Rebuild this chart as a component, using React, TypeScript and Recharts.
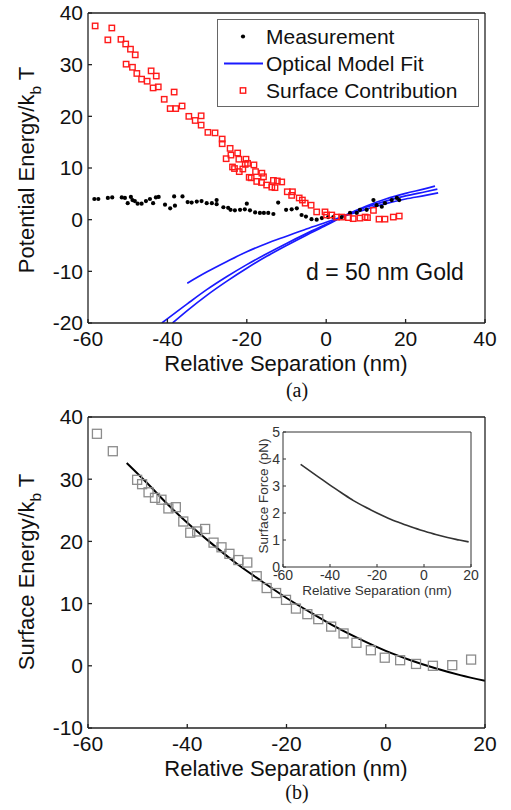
import React from "react";
import { ComposedChart, Line, Scatter, XAxis, YAxis, Legend, Label } from "recharts";

const FONT = "'Liberation Sans', Arial, Helvetica, sans-serif";
const SERIF = "'Liberation Serif', 'Times New Roman', serif";
const INK = "#111";

// ---- (a) potential energy ----
const topXTicks = [-60, -40, -20, 0, 20, 40];
const topYTicks = [-20, -10, 0, 10, 20, 30, 40];

const measurement = [
  [-58.4, 4.0], [-57.4, 4.0], [-55.0, 4.2], [-53.9, 4.3], [-51.5, 4.3], [-50.7, 4.2],
  [-50.0, 3.2], [-49.2, 4.4], [-48.8, 3.8], [-48.2, 3.6], [-47.5, 3.1], [-46.5, 3.1],
  [-45.4, 3.6], [-44.4, 4.0], [-43.6, 3.2], [-42.9, 4.3], [-42.2, 4.4], [-40.6, 2.9],
  [-39.3, 2.2], [-38.1, 2.7], [-38.3, 4.5], [-36.2, 4.5], [-34.9, 3.4], [-33.9, 3.3],
  [-32.6, 3.5], [-31.4, 3.6], [-30.1, 3.2], [-28.8, 3.2], [-27.6, 3.8], [-27.6, 3.0],
  [-25.9, 2.4], [-24.7, 2.3], [-24.1, 1.9], [-23.0, 1.8], [-21.7, 1.9], [-20.5, 2.0],
  [-20.0, 3.1], [-19.2, 1.8], [-17.9, 1.4], [-16.7, 1.3], [-15.7, 1.3], [-14.6, 1.3],
  [-13.3, 1.1], [-12.1, 3.3], [-10.1, 1.9], [-8.7, 2.0], [-7.4, 2.2], [-6.2, 0.9],
  [-5.1, 0.6], [-3.7, 0.1], [-2.4, 0.0], [-1.1, 0.3], [0.5, 0.5], [1.8, 0.5],
  [3.9, 0.5], [6.0, 1.3], [7.7, 1.3], [8.5, 1.9], [10.2, 1.9], [11.9, 3.8],
  [12.7, 2.8], [14.0, 2.5], [14.8, 3.2], [16.5, 3.8], [17.8, 4.2], [18.4, 3.8],
];

const surfaceContribution = [
  [-58.2, 37.5], [-55.0, 34.8], [-54.0, 37.1], [-51.7, 34.9], [-50.5, 34.0], [-49.3, 33.0],
  [-48.1, 31.9], [-50.4, 30.1], [-48.8, 29.5], [-47.7, 28.3], [-46.5, 27.2], [-45.1, 26.8],
  [-44.1, 28.8], [-42.8, 27.8], [-43.6, 25.5], [-42.3, 25.7], [-40.8, 23.3], [-38.3, 24.7],
  [-39.3, 21.5], [-37.9, 21.5], [-36.3, 22.0], [-34.6, 20.0], [-33.0, 19.2], [-31.5, 20.1],
  [-31.5, 18.3], [-29.8, 16.9], [-28.0, 16.8], [-26.2, 15.6], [-26.2, 14.7], [-24.2, 13.8],
  [-24.0, 12.5], [-25.2, 11.8], [-22.3, 12.9], [-22.0, 11.7], [-20.2, 11.7], [-23.6, 10.2],
  [-23.1, 9.9], [-21.9, 9.3], [-21.0, 9.8], [-20.4, 10.7], [-19.8, 10.9], [-18.2, 10.6],
  [-17.8, 9.3], [-19.4, 8.2], [-18.9, 8.1], [-16.2, 9.0], [-15.8, 8.3], [-17.5, 7.4],
  [-16.3, 7.2], [-15.0, 6.7], [-13.7, 6.3], [-13.3, 7.6], [-12.3, 7.5], [-11.2, 7.3],
  [-12.9, 6.2], [-9.8, 5.4], [-8.5, 5.4], [-8.7, 4.7], [-6.8, 4.2], [-6.0, 3.8],
  [-5.3, 3.2], [-3.8, 2.8], [-2.4, 1.5], [-0.3, 1.5], [0.1, 0.9], [1.4, 0.9],
  [2.6, 0.5], [3.9, 0.5], [5.6, 0.4], [6.8, 0.2], [8.5, 0.3], [9.8, 0.5],
  [10.4, 0.4], [11.9, 1.8], [13.3, 0.1], [14.8, 0.1], [16.9, 0.5], [18.4, 0.7],
];

const fitA = [
  [-35, -12.3], [-30, -10.1], [-25, -8.1], [-20, -6.2], [-15, -4.6], [-10, -3.2],
  [-5, -1.8], [0, -0.5], [5, 0.8], [10, 2.0], [15, 3.1], [20, 4.0], [25, 4.7], [28.2, 5.2],
];
const fitB = [
  [-41.4, -20], [-35, -16.3], [-30, -13.5], [-25, -11.0], [-20, -8.7], [-15, -6.6],
  [-10, -4.6], [-5, -2.7], [0, -0.9], [5, 0.9], [10, 2.4], [15, 3.6], [20, 4.6],
  [25, 5.4], [28, 5.9],
];
const fitC = [
  [-38.7, -20], [-35, -17.6], [-30, -14.6], [-25, -11.9], [-20, -9.4], [-15, -7.1],
  [-10, -5.0], [-5, -3.0], [0, -1.1], [5, 0.9], [10, 2.6], [15, 4.0], [20, 5.1],
  [25, 6.0], [27.4, 6.5],
];

const legendRows = ["Measurement", "Optical Model Fit", "Surface Contribution"];

// ---- (b) surface energy ----
const botXTicks = [-60, -40, -20, 0, 20];
const botYTicks = [-10, 0, 10, 20, 30, 40];

const surfaceEnergy = [
  [-58.2, 37.3], [-55.0, 34.5], [-50.1, 29.9], [-49.1, 29.2], [-47.8, 27.9], [-46.5, 27.0],
  [-45.2, 26.7], [-43.8, 25.3], [-42.3, 25.5], [-40.8, 23.2], [-39.4, 21.4], [-38.0, 21.6],
  [-36.4, 22.0], [-34.7, 19.8], [-33.1, 19.05], [-31.5, 18.0], [-29.7, 17.0], [-27.9, 16.6],
  [-26.0, 14.4], [-24.0, 12.5], [-22.1, 11.7], [-20.1, 10.6], [-18.1, 9.2], [-15.8, 8.3],
  [-13.6, 7.5], [-11.0, 6.3], [-8.5, 5.2], [-5.9, 3.7], [-3.0, 2.5], [-0.2, 1.3],
  [2.9, 0.9], [6.1, 0.3], [9.5, 0.0], [13.4, 0.1], [17.2, 1.0],
];

const energyFit = [
  [-52.2, 32.6], [-48, 29.3], [-44, 26.0], [-40, 23.0], [-35, 19.6], [-30, 16.4],
  [-25, 13.6], [-20, 10.9], [-15, 8.5], [-10, 6.2], [-5, 4.2], [0, 2.4], [5, 0.9],
  [10, -0.4], [15, -1.5], [20, -2.4],
];

// ---- inset ----
const insetXTicks = [-60, -40, -20, 0, 20];
const insetYTicks = [0, 1, 2, 3, 4, 5];
const surfaceForce = [
  [-52.5, 3.8], [-45, 3.34], [-40, 3.03], [-35, 2.74], [-30, 2.46], [-25, 2.22],
  [-20, 2.0], [-15, 1.8], [-10, 1.63], [-5, 1.47], [0, 1.33], [5, 1.2], [10, 1.09],
  [15, 1.0], [19, 0.93],
];

const pts = (arr: number[][]) => arr.map(([x, y]) => ({ x, y }));

const Dot = (p: any) => <circle cx={p.cx} cy={p.cy} r={2.1} fill="#000" />;
const RedSquare = (p: any) => (
  <rect x={p.cx - 2.7} y={p.cy - 2.7} width={5.4} height={5.4} fill="none" stroke="#ff1a1a" strokeWidth={1.4} />
);
const GraySquare = (p: any) => (
  <rect x={p.cx - 4.5} y={p.cy - 4.5} width={9} height={9} fill="none" stroke="#8c8c8c" strokeWidth={1.3} />
);

const xTitle = (cx: number, y: number, size: number, text: string, color = INK) => () => (
  <text x={cx} y={y} textAnchor="middle" fontSize={size} fontFamily={FONT} fill={color}>
    {text}
  </text>
);

const yTitle = (cx: number, cy: number, size: number, text: string, sub?: string, color = INK) => () => (
  <text x={cx} y={cy} transform={`rotate(-90 ${cx} ${cy})`} textAnchor="middle" fontSize={size} fontFamily={FONT} fill={color}>
    {text}
    {sub ? (
      <>
        <tspan fontSize={size * 0.7} dy={size * 0.3}>{sub}</tspan>
        <tspan dy={-size * 0.3}> T</tspan>
      </>
    ) : null}
  </text>
);

const TopLegend = () => (
  <div
    style={{
      width: 262,
      height: 88,
      boxSizing: "border-box",
      border: "1px solid #666",
      background: "#fff",
      paddingTop: 3,
      fontFamily: FONT,
      fontSize: 21,
      color: INK,
    }}
  >
    {legendRows.map((name, i) => (
      <div key={name} style={{ height: 27, display: "flex", alignItems: "center" }}>
        <svg width={48} height={27}>
          {i === 0 && <circle cx={25} cy={13.5} r={2.1} fill="#000" />}
          {i === 1 && <line x1={6} x2={45} y1={13.5} y2={13.5} stroke="#1a1aff" strokeWidth={1.8} />}
          {i === 2 && <rect x={22.3} y={10.8} width={5.4} height={5.4} fill="none" stroke="#ff1a1a" strokeWidth={1.4} />}
        </svg>
        <span style={{ lineHeight: "27px" }}>{name}</span>
      </div>
    ))}
  </div>
);

const axisProps = { stroke: "#222", strokeWidth: 1.3 };
const tickFont = { fontSize: 21, fontFamily: FONT, fill: INK };
const insetLine = { stroke: "#333", strokeWidth: 1 };
const insetFont = { fontSize: 14, fontFamily: FONT, fill: "#333" };
const blank = () => "";

export default function App() {
  return (
    <div style={{ position: "absolute", left: 0, top: 0, width: 511, height: 810, background: "#fff" }}>
      {/* (a) */}
      <div style={{ position: "absolute", left: 0, top: 0 }}>
        <ComposedChart width={511} height={385} margin={{ top: 12, right: 25, bottom: 61, left: 87 }}>
          <XAxis
            dataKey="x"
            type="number"
            domain={[-60, 40]}
            ticks={topXTicks}
            interval={0}
            allowDataOverflow
            height={1}
            tickSize={-4}
            tickMargin={12}
            tick={tickFont}
            axisLine={axisProps}
            tickLine={axisProps}
          >
            <Label content={xTitle(286, 371, 22, "Relative Separation (nm)")} />
          </XAxis>
          <XAxis
            xAxisId="t"
            orientation="top"
            type="number"
            domain={[-60, 40]}
            ticks={topXTicks}
            interval={0}
            height={1}
            tickSize={-4}
            tickFormatter={blank}
            axisLine={axisProps}
            tickLine={axisProps}
          />
          <YAxis
            dataKey="y"
            type="number"
            domain={[-20, 40]}
            ticks={topYTicks}
            interval={0}
            allowDataOverflow
            width={1}
            tickSize={-4}
            tickMargin={9}
            tick={tickFont}
            axisLine={axisProps}
            tickLine={axisProps}
          >
            <Label content={yTitle(34, 170, 22, "Potential Energy/k", "b")} />
          </YAxis>
          <YAxis
            yAxisId="r"
            orientation="right"
            type="number"
            domain={[-20, 40]}
            ticks={topYTicks}
            interval={0}
            width={1}
            tickSize={-4}
            tickFormatter={blank}
            axisLine={axisProps}
            tickLine={axisProps}
          />
          <Line data={pts(fitA)} dataKey="y" type="monotone" stroke="#1a1aff" strokeWidth={1.7} dot={false} activeDot={false} isAnimationActive={false} />
          <Line data={pts(fitB)} dataKey="y" type="monotone" stroke="#1a1aff" strokeWidth={1.7} dot={false} activeDot={false} isAnimationActive={false} />
          <Line data={pts(fitC)} dataKey="y" type="monotone" stroke="#1a1aff" strokeWidth={1.7} dot={false} activeDot={false} isAnimationActive={false} />
          <Scatter data={pts(measurement)} dataKey="y" shape={Dot} isAnimationActive={false} />
          <Scatter data={pts(surfaceContribution)} dataKey="y" shape={RedSquare} isAnimationActive={false} />
          <Legend
            layout="vertical"
            align="center"
            verticalAlign="middle"
            wrapperStyle={{ left: 217, top: 19, width: 262 }}
            content={() => <TopLegend />}
          />
        </ComposedChart>
        <div style={{ position: "absolute", left: 306, top: 259, fontFamily: FONT, fontSize: 23, color: INK, whiteSpace: "nowrap" }}>
          d = 50 nm Gold
        </div>
      </div>
      <div style={{ position: "absolute", left: 0, width: 594, top: 379, textAlign: "center", fontFamily: SERIF, fontSize: 20, color: INK }}>
        (a)
      </div>

      {/* (b) */}
      <div style={{ position: "absolute", left: 0, top: 400 }}>
        <ComposedChart width={511} height={400} margin={{ top: 16, right: 25, bottom: 71, left: 87 }}>
          <XAxis
            dataKey="x"
            type="number"
            domain={[-60, 20]}
            ticks={botXTicks}
            interval={0}
            allowDataOverflow
            height={1}
            tickSize={-4}
            tickMargin={12}
            tick={tickFont}
            axisLine={axisProps}
            tickLine={axisProps}
          >
            <Label content={xTitle(286, 376, 22, "Relative Separation (nm)")} />
          </XAxis>
          <XAxis
            xAxisId="t"
            orientation="top"
            type="number"
            domain={[-60, 20]}
            ticks={botXTicks}
            interval={0}
            height={1}
            tickSize={-4}
            tickFormatter={blank}
            axisLine={axisProps}
            tickLine={axisProps}
          />
          <YAxis
            dataKey="y"
            type="number"
            domain={[-10, 40]}
            ticks={botYTicks}
            interval={0}
            allowDataOverflow
            width={1}
            tickSize={-4}
            tickMargin={9}
            tick={tickFont}
            axisLine={axisProps}
            tickLine={axisProps}
          >
            <Label content={yTitle(34, 172, 22, "Surface Energy/k", "b")} />
          </YAxis>
          <YAxis
            yAxisId="r"
            orientation="right"
            type="number"
            domain={[-10, 40]}
            ticks={botYTicks}
            interval={0}
            width={1}
            tickSize={-4}
            tickFormatter={blank}
            axisLine={axisProps}
            tickLine={axisProps}
          />
          <Scatter data={pts(surfaceEnergy)} dataKey="y" shape={GraySquare} isAnimationActive={false} />
          <Line data={pts(energyFit)} dataKey="y" type="monotone" stroke="#000" strokeWidth={2} dot={false} activeDot={false} isAnimationActive={false} />
        </ComposedChart>
      </div>

      {/* inset */}
      <div style={{ position: "absolute", left: 230, top: 420 }}>
        <ComposedChart width={260} height={185} margin={{ top: 11, right: 18, bottom: 37, left: 52 }}>
          <XAxis
            dataKey="x"
            type="number"
            domain={[-60, 20]}
            ticks={insetXTicks}
            interval={0}
            allowDataOverflow
            height={1}
            tickSize={-3}
            tickMargin={6}
            tick={insetFont}
            axisLine={insetLine}
            tickLine={insetLine}
          >
            <Label content={xTitle(147, 175, 13.5, "Relative Separation (nm)", "#333")} />
          </XAxis>
          <XAxis
            xAxisId="t"
            orientation="top"
            type="number"
            domain={[-60, 20]}
            ticks={insetXTicks}
            interval={0}
            height={1}
            tickSize={-3}
            tickFormatter={blank}
            axisLine={insetLine}
            tickLine={insetLine}
          />
          <YAxis
            dataKey="y"
            type="number"
            domain={[0, 5]}
            ticks={insetYTicks}
            interval={0}
            allowDataOverflow
            width={1}
            tickSize={-3}
            tickMargin={6}
            tick={insetFont}
            axisLine={insetLine}
            tickLine={insetLine}
          >
            <Label content={yTitle(38, 76, 13.5, "Surface Force (pN)", undefined, "#333")} />
          </YAxis>
          <YAxis
            yAxisId="r"
            orientation="right"
            type="number"
            domain={[0, 5]}
            ticks={insetYTicks}
            interval={0}
            width={1}
            tickSize={-3}
            tickFormatter={blank}
            axisLine={insetLine}
            tickLine={insetLine}
          />
          <Line data={pts(surfaceForce)} dataKey="y" type="monotone" stroke="#333" strokeWidth={1.6} dot={false} activeDot={false} isAnimationActive={false} />
        </ComposedChart>
      </div>
      <div style={{ position: "absolute", left: 0, width: 594, top: 781, lineHeight: "22px", textAlign: "center", fontFamily: SERIF, fontSize: 20, color: INK }}>
        (b)
      </div>
    </div>
  );
}
